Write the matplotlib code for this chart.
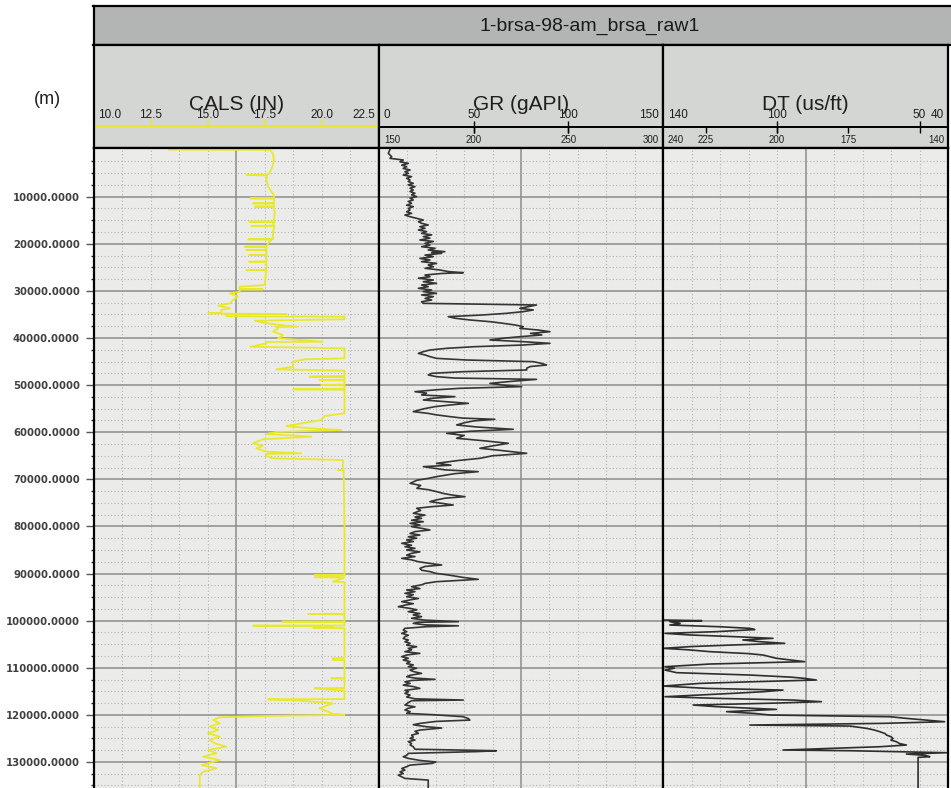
import matplotlib
matplotlib.use('Agg')
import matplotlib.pyplot as plt
from matplotlib.ticker import FixedLocator, NullFormatter

plt.rcParams['font.family'] = ['Liberation Sans', 'DejaVu Sans']

well_name = '1-brsa-98-am_brsa_raw1'
depth_unit = '(m)'
track_titles = ['CALS (IN)', 'GR (gAPI)', 'DT (us/ft)']

cals_scale = [10.0, 12.5, 15.0, 17.5, 20.0, 22.5]
gr_scale = [0, 50, 100, 150]
gr_scale2 = [150, 200, 250, 300]
dt_scale = [140, 100, 50, 40]
dt_scale2 = [240, 225, 200, 175, 140]
depth_ticks = list(range(10000, 140000, 10000))
depth_minor = list(range(0, 140000, 2500))

cals_depth = [0, 60, 800, 2500, 4000, 5000, 5300, 5390, 5480, 6500, 7800, 9000, 9600,
              10300, 10350, 10400, 11360, 11410, 11460, 12060, 12110, 12160, 13500,
              15250, 15300, 15350, 15700, 16170, 16220, 16270, 17500, 19000, 19050,
              19100, 19900, 20560, 20610, 20660, 21270, 21320, 21370, 22330, 22380,
              22430, 23750, 23800, 23850, 25510, 25560, 25610, 28750, 29100, 29600,
              29670, 29740, 30200, 30510, 31200, 31930, 32640, 33130, 33700, 34050,
              34700, 34760, 34830, 34900, 34970, 35400, 35470, 36030, 36320, 36740,
              37240, 37590, 37650, 37950, 38660, 39360, 40070, 40780, 40850, 41130,
              41840, 42190, 44310, 44530, 45020, 46090, 46650, 46930, 48060, 48200,
              48300, 48860, 48910, 48980, 49920, 49970, 50040, 50840, 50890, 50960,
              55990, 56560, 57410, 57970, 58680, 59180, 59530, 59950, 60370, 60940,
              61500, 62350, 62920, 63410, 64120, 64480, 64600, 65040, 65540, 65900,
              67950, 68020, 68090, 80000, 90250, 90310, 90400, 90800, 90870, 91730,
              91800, 98540, 98590, 98660, 100170, 100220, 100290, 101020, 101070,
              101200, 101500, 101600, 107940, 107990, 108340, 108400, 112190, 112240,
              112310, 114310, 114360, 114710, 114800, 116650, 116700, 116980, 117540,
              118600, 119310, 119810, 120000, 120240, 120520, 121090, 121800, 122500,
              123210, 123920, 124630, 125340, 126050, 126760, 127460, 128170, 128880,
              129590, 130650, 131360, 132070, 132780, 135540]
cals_val = [13.3, 17.7, 17.86, 17.9, 17.8, 17.7, 17.6, 16.7, 17.6, 17.57, 17.64, 17.8, 17.9,
            17.9, 16.87, 17.9, 17.9, 16.98, 17.9, 17.9, 17.06, 17.9, 17.93,
            17.9, 16.81, 17.93, 17.86, 17.9, 16.91, 17.93, 17.86, 17.86, 16.77,
            17.8, 17.64, 17.57, 16.62, 17.57, 17.57, 16.69, 17.57, 17.57, 16.81,
            17.57, 17.57, 16.81, 17.57, 17.57, 16.69, 17.57, 17.49, 16.40, 16.40,
            17.42, 16.40, 16.40, 15.97, 16.33, 16.11, 15.97, 15.45, 15.97, 15.60,
            15.60, 15.02, 15.80, 18.44, 15.82, 15.82, 20.99, 20.99, 17.06, 17.42,
            18.15, 18.95, 18.0, 18.08, 17.86, 18.30, 18.08, 20.04, 17.57, 17.57,
            16.87, 20.99, 20.99, 19.24, 18.73, 18.73, 18.00, 20.99, 20.99, 19.46,
            20.99, 20.99, 19.90, 20.99, 20.99, 19.97, 20.99, 20.99, 18.73, 20.99,
            20.99, 20.12, 19.97, 19.32, 18.44, 19.53, 20.85, 18.00, 17.57, 19.53,
            17.42, 16.98, 17.42, 17.13, 17.57, 19.10, 17.57, 17.57, 17.86, 20.92,
            20.92, 20.70, 20.95, 20.99, 20.99, 19.68, 20.99, 19.68, 20.99, 20.48,
            20.99, 20.99, 19.39, 20.99, 20.99, 18.27, 20.99, 20.99, 16.98,
            20.5, 19.61, 20.99, 20.99, 20.48, 20.48, 20.99, 20.99, 20.41,
            20.99, 20.99, 19.68, 20.48, 20.99, 20.99, 17.64, 19.02, 20.48,
            19.90, 20.26, 20.48, 20.99, 17.57, 15.53, 15.24, 15.53, 15.09,
            15.46, 15.02, 15.53, 15.09, 15.31, 15.82, 15.02, 15.38, 14.80,
            15.53, 14.73, 15.38, 14.80, 14.65, 14.65]

gr_depth = [0, 790, 1500, 1850, 2210, 2600, 2910, 3300, 3620, 4000, 4330, 4700, 5040, 5400,
            5740, 6100, 6450, 6800, 7160, 7500, 7870, 8200, 8580, 8900, 9280, 9600, 9990,
            10300, 10700, 11000, 11410, 11800, 12110, 12500, 12820, 13200, 13530, 13900,
            14240, 14600, 14950, 15300, 15650, 16000, 16360, 16700, 17070, 17400, 17780,
            18100, 18480, 18800, 19190, 19500, 19900, 20250, 20610, 20950, 21320, 21670,
            21850, 22020, 22400, 22730, 23100, 23440, 23800, 24150, 24500, 24850, 25200,
            25560, 25900, 26130, 26300, 26620, 26980, 27300, 27690, 28050, 28390, 28750,
            29100, 29450, 29810, 30150, 30510, 30850, 31220, 31600, 31930, 32300, 32640,
            32990, 33340, 33700, 34050, 34400, 34760, 35100, 35470, 35800, 36170, 36530,
            36880, 37240, 37590, 37950, 38300, 38660, 39010, 39350, 39720, 40070, 40420,
            40780, 41130, 41500, 41850, 42190, 42550, 42900, 43260, 43600, 43950, 44320,
            44670, 45020, 45400, 45730, 46050, 46400, 46790, 47150, 47500, 47850, 48210,
            48500, 48780, 49200, 49630, 49970, 50320, 50680, 51000, 51390, 51700, 52100,
            52450, 52800, 53160, 53500, 53870, 54200, 54570, 55000, 55300, 55630, 56000,
            56300, 56690, 57000, 57260, 57600, 58000, 58460, 58900, 59380, 59800, 60230,
            60700, 61290, 61800, 62350, 62900, 63410, 63900, 64480, 65000, 65540, 66000,
            66600, 67000, 67310, 68000, 68370, 68800, 69430, 69800, 70200, 70850, 71300,
            71900, 72200, 72610, 73000, 73300, 73680, 74000, 74400, 74740, 75100, 75450,
            75800, 76150, 76600, 77210, 77600, 78000, 78280, 78700, 79000, 79340, 79700,
            80050, 80400, 80760, 81100, 81500, 81820, 82200, 82500, 82880, 83200, 83590,
            84000, 84300, 84650, 85000, 85400, 85710, 86100, 86400, 86780, 87100, 87490,
            87800, 88190, 88500, 88900, 89300, 89600, 89960, 90310, 90800, 91230, 91500,
            91730, 92100, 92400, 92790, 93200, 93500, 93850, 94200, 94500, 94910, 95300,
            95600, 95970, 96400, 96700, 97040, 97400, 97700, 98100, 98500, 98800, 99160,
            99500, 99900, 100220, 100350, 100580, 100900, 101100, 101290, 101640, 102000,
            102350, 102700, 103100, 103400, 103800, 104120, 104500, 104800, 105200, 105540,
            105900, 106200, 106600, 106950, 107300, 107650, 108000, 108370, 108700, 109100,
            109400, 109780, 110100, 110500, 110800, 111200, 111600, 111900, 112200, 112470,
            112700, 113000, 113320, 113700, 114000, 114380, 114800, 115100, 115440, 115800,
            116200, 116600, 116860, 117000, 117400, 117920, 118300, 118600, 118980, 119300,
            119690, 120000, 120400, 120800, 121110, 121400, 121820, 122100, 122520, 122800,
            123230, 123500, 123940, 124300, 124700, 125000, 125350, 125700, 126100, 126400,
            126770, 127300, 127620, 127800, 128180, 128600, 128900, 129250, 129700, 130000,
            130310, 130670, 131000, 131400, 131730, 132100, 132440, 132800, 133150, 133500,
            133850, 135540]
gr_val = [5.8, 4.9, 6.7, 5.8, 12.8, 11.1, 15.5, 12.0, 14.6, 12.8, 16.4, 13.7, 15.5, 12.8,
          17.2, 14.6, 16.4, 15.5, 18.1, 15.5, 19.0, 16.4, 18.1, 16.4, 19.0, 17.2, 19.9,
          16.4, 18.1, 15.5, 17.2, 14.6, 18.1, 15.5, 16.4, 14.6, 17.2, 13.7,
          16.4, 19.9, 23.4, 20.8, 22.5, 26.0, 21.6, 24.3, 20.8, 25.1, 22.5,
          27.8, 23.4, 26.9, 21.6, 28.7, 24.3, 26.9, 22.5, 29.6, 26.0, 34.8,
          27.8, 33.1, 24.3, 28.7, 21.6, 26.9, 22.5, 30.4, 26.0, 28.7, 24.3,
          32.2, 36.6, 44.5, 33.1, 24.3, 26.9, 20.8, 28.7, 23.4, 30.4, 22.5,
          26.0, 20.8, 27.8, 23.4, 30.4, 22.5, 28.7, 24.3, 27.8, 22.5, 23.4,
          83.2, 79.0, 74.4, 81.5, 76.2, 67.4, 55.0, 36.6, 40.1, 48.0, 58.6,
          65.6, 72.0, 76.2, 74.4, 84.0, 90.3, 80.0, 86.0, 74.4, 65.0, 58.6,
          76.2, 90.3, 75.3, 50.0, 35.7, 26.9, 23.4, 20.8, 24.3, 26.9, 30.4,
          46.3, 81.5, 86.0, 88.5, 80.0, 78.0, 78.0, 44.5, 27.8, 26.0, 30.4,
          40.0, 83.2, 70.0, 58.6, 65.0, 75.3, 42.8, 30.0, 19.0, 25.1, 22.5,
          40.1, 28.0, 23.4, 35.0, 47.2, 38.0, 29.6, 24.0, 21.0, 18.1, 26.0,
          30.0, 37.5, 44.0, 61.2, 50.0, 45.0, 41.0, 52.0, 70.9, 48.0, 35.7,
          45.0, 41.0, 55.0, 68.3, 60.0, 53.3, 65.0, 78.0, 60.0, 53.3, 42.0,
          30.4, 38.0, 23.4, 35.0, 52.4, 40.0, 30.4, 26.0, 20.0, 16.4, 22.0,
          20.0, 26.0, 30.4, 34.0, 38.0, 45.4, 35.0, 30.0, 26.9, 33.0, 39.2,
          28.0, 19.9, 22.0, 18.1, 24.3, 19.0, 22.5, 17.2, 23.4, 16.4, 21.6,
          17.2, 22.5, 26.9, 19.0, 16.4, 21.6, 15.5, 19.9, 14.6, 18.1, 12.0,
          17.2, 13.7, 19.0, 14.6, 21.6, 17.2, 14.6, 19.0, 12.0, 17.2, 20.8,
          26.0, 33.1, 24.3, 21.6, 22.5, 27.0, 30.0, 36.6, 44.0, 52.4, 40.0,
          30.4, 24.3, 22.5, 17.2, 21.6, 14.6, 19.0, 13.7, 18.1, 14.6, 20.8,
          16.4, 12.0, 18.1, 13.7, 10.2, 16.4, 20.0, 15.5, 21.6, 18.1, 22.5,
          17.2, 24.3, 41.9, 20.8, 18.1, 24.3, 41.9, 25.0, 13.7, 12.8,
          14.6, 12.0, 15.5, 13.7, 12.8, 15.5, 13.7, 16.4, 14.6, 19.9,
          15.5, 17.2, 13.7, 21.6, 14.6, 12.0, 15.5, 12.8, 16.4, 14.6,
          18.1, 15.5, 19.9, 16.4, 18.1, 22.5, 16.4, 14.6, 19.0, 29.6,
          17.2, 13.7, 16.4, 12.8, 18.1, 21.6, 13.7, 15.5, 13.7, 16.4,
          14.6, 19.0, 44.5, 17.2, 15.5, 13.7, 19.0, 15.5, 13.7, 16.4,
          14.6, 30.0, 44.5, 47.2, 48.0, 30.0, 21.6, 18.1, 25.0, 33.1,
          21.6, 19.0, 20.8, 17.2, 18.1, 16.4, 19.0, 15.5, 17.2, 16.4,
          18.1, 19.0, 62.0, 52.0, 15.5, 14.6, 12.8, 15.5, 22.0, 30.0,
          28.0, 16.4, 14.6, 12.0, 13.7, 11.1, 12.8, 10.2, 12.0, 13.7,
          26.0, 26.0]

dt_depth = [99870, 100010, 100220, 100600, 100930, 101300, 101640, 101900, 102340, 102700,
            103050, 103400, 103760, 104100, 104470, 104820, 105170, 105500, 105880, 106200,
            106590, 107000, 107300, 108000, 108300, 108710, 109210, 109780, 110100, 110490,
            111050, 111550, 112000, 112260, 112610, 113000, 113320, 113890, 114380, 114740,
            115100, 115440, 116150, 116500, 116860, 117210, 117500, 117920, 118270, 118840,
            119330, 119700, 120040, 120400, 120750, 121100, 121460, 121810, 122170, 122380,
            122870, 123200, 123580, 124000, 124290, 124650, 125000, 125350, 125710, 126100,
            126410, 126770, 127100, 127470, 127620, 128040, 128320, 128600, 128890, 129030,
            135540]
dt_val = [139.9, 126.4, 137.6, 134.0, 137.6, 120.0, 109.5, 107.8, 121.2, 139.3,
          130.5, 115.0, 101.4, 112.0, 106.0, 97.3, 115.4, 130.0, 139.9, 131.0,
          123.5, 110.0, 104.9, 100.2, 96.0, 90.3, 123.5, 139.3, 136.0, 139.3,
          135.2, 109.5, 95.0, 90.3, 86.2, 110.0, 127.0, 139.9, 124.7, 97.9,
          105.0, 115.4, 139.3, 121.2, 94.4, 84.4, 100.0, 129.4, 121.2, 100.2,
          117.7, 108.0, 102.5, 60.4, 54.6, 48.0, 41.2, 62.8, 109.5, 74.4,
          68.6, 66.0, 63.9, 62.0, 61.6, 60.0, 59.3, 60.0, 58.1, 57.0,
          54.6, 63.9, 80.0, 97.9, 74.4, 40.6, 54.6, 48.0, 46.4, 50.5,
          50.5]

# ---------------- layout (pixels) ----------------
W, H = 951, 788
edges = [93.5, 379, 663, 948]
title_top, head_top, plot_top = 6, 45, 148
depth_top = (plot_top - 149.6) * 212.3
depth_bot = (H - 149.6) * 212.3

fig = plt.figure(figsize=(W / 100, H / 100), dpi=100, facecolor='white')


def px_axes(x0, y0, x1, y1):
    return fig.add_axes([x0 / W, 1 - y1 / H, (x1 - x0) / W, (y1 - y0) / H])


# title bar
tax = px_axes(edges[0], title_top, 990, head_top)
tax.set_facecolor('#b3b5b5')
tax.set_xlim(edges[0], 990)
tax.set_ylim(head_top, title_top)
tax.set_xticks([])
tax.set_yticks([])
for s in tax.spines.values():
    s.set_linewidth(1.6)
tax.text(590, 26, well_name, ha='center', va='center', fontsize=14, color='#1a1a1a')

fig.text(47 / W, 1 - 100 / H, depth_unit, ha='center', va='center', fontsize=13, color='#222222')

tracks = [
    dict(lim=(10.0, 22.5), d=cals_depth, v=cals_val, color='#e9e92c', lw=1.3,
         scale=cals_scale, fmt='{:.1f}', scale2=None),
    dict(lim=(0, 150), d=gr_depth, v=gr_val, color='#353535', lw=1.2,
         scale=gr_scale, fmt='{:d}', scale2=gr_scale2, lim2=(150, 300)),
    dict(lim=(140, 40), d=dt_depth, v=dt_val, color='#2e2e2e', lw=1.2,
         scale=dt_scale, fmt='{:d}', scale2=dt_scale2, lim2=(240, 140)),
]

for i, tr in enumerate(tracks):
    x0, x1 = edges[i], edges[i + 1]
    lo, hi = tr['lim']

    # header
    hax = px_axes(x0, head_top, x1, plot_top)
    hax.set_facecolor('#d4d6d3')
    hax.set_xlim(lo, hi)
    hax.set_ylim(plot_top, head_top)
    hax.set_xticks([])
    hax.set_yticks([])
    for s in hax.spines.values():
        s.set_linewidth(1.6)
    hax.text((lo + hi) / 2, 104, track_titles[i], ha='center', va='center',
             fontsize=15, color='#1e1e1e')

    n = len(tr['scale'])
    for k, val in enumerate(tr['scale']):
        ha = 'left' if k == 0 else ('right' if k == n - 1 else 'center')
        dx = 5 if k == 0 else (-4 if k == n - 1 else 0)
        hax.annotate(tr['fmt'].format(val), (val, 115), xytext=(dx, 0),
                     textcoords='offset pixels', ha=ha, va='center',
                     fontsize=8.5, color='#1e1e1e')

    if tr['scale2'] is None:
        hax.axhline(126.5, color=tr['color'], lw=1.4)
        hax.vlines(tr['scale'], 120.5, 126.5, color=tr['color'], lw=1.2)
    else:
        hax.axhline(127, color='black', lw=1.4)
        hax.vlines(tr['scale'][1:-1], 121, 133, color='black', lw=1.0)
        s_lo, s_hi = tr['lim2']
        m = len(tr['scale2'])
        for k, val in enumerate(tr['scale2']):
            pos = lo + (val - s_lo) / (s_hi - s_lo) * (hi - lo)
            ha = 'left' if k == 0 else ('right' if k == m - 1 else 'center')
            dx = 5 if k == 0 else (-4 if k == m - 1 else 0)
            hax.annotate(str(val), (pos, 140), xytext=(dx, 0),
                         textcoords='offset pixels', ha=ha, va='center',
                         fontsize=7, color='#1e1e1e')
            if 0 < k < m - 1:
                hax.vlines(pos, 127, 133, color='black', lw=1.0)

    # track
    ax = px_axes(x0, plot_top, x1, H)
    ax.set_facecolor('#ebebea')
    ax.set_xlim(lo, hi)
    ax.set_ylim(depth_bot, depth_top)
    ax.set_axisbelow(True)
    for s in ax.spines.values():
        s.set_linewidth(1.6)
    ax.spines['bottom'].set_visible(False)

    step = (hi - lo) / 10
    ax.xaxis.set_major_locator(FixedLocator([lo + 5 * step]))
    ax.xaxis.set_minor_locator(FixedLocator([lo + j * step for j in range(1, 10) if j != 5]))
    ax.tick_params(axis='x', which='both', length=0, labelbottom=False)

    ax.yaxis.set_major_locator(FixedLocator(depth_ticks))
    ax.yaxis.set_minor_locator(FixedLocator([d for d in depth_minor if d % 10000]))
    ax.grid(which='major', color='#8c8c8c', lw=1.1, ls='-')
    ax.grid(which='minor', color='#b4b4b4', lw=0.8, ls=(0, (1, 2)))

    if i == 0:
        ax.set_yticklabels(['{:.4f}'.format(d) for d in depth_ticks])
        ax.yaxis.set_minor_formatter(NullFormatter())
        ax.tick_params(axis='y', which='major', length=5.8, width=1, color='#555555',
                       pad=4, labelsize=7.3, labelcolor='#404040')
        ax.tick_params(axis='y', which='minor', length=2.5, width=1, color='#222222')
        for lbl in ax.get_yticklabels():
            lbl.set_fontfamily('DejaVu Sans')
            lbl.set_fontweight('bold')
    else:
        ax.tick_params(axis='y', which='both', length=0, labelleft=False)

    ax.plot(tr['v'], tr['d'], color=tr['color'], lw=tr['lw'], clip_on=True)

fig.savefig('out.png', dpi=100, facecolor='white')
